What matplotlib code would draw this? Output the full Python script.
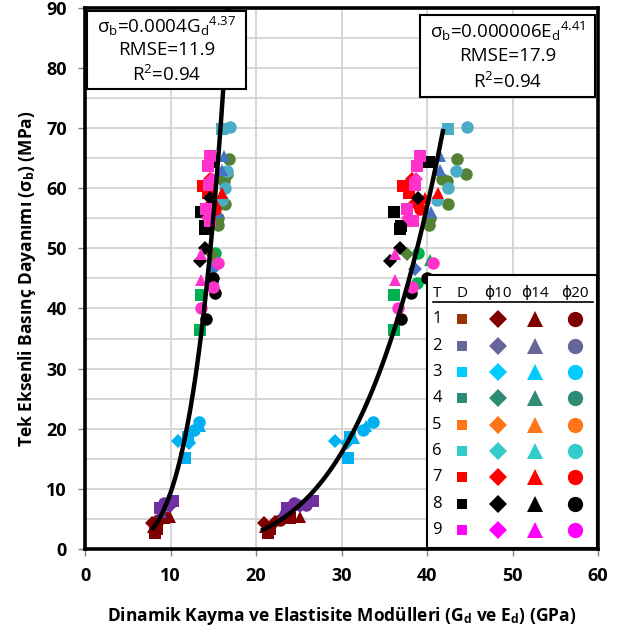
import numpy as np
import matplotlib
matplotlib.use("Agg")
import matplotlib.pyplot as plt
from matplotlib.patches import Rectangle

plt.rcParams['font.family'] = ['Open Sans', 'DejaVu Sans']
plt.rcParams['mathtext.fontset'] = 'custom'
plt.rcParams['mathtext.rm'] = 'Open Sans'
plt.rcParams['mathtext.it'] = 'Open Sans:italic'
plt.rcParams['mathtext.bf'] = 'Open Sans:bold'

# measured points: sigma_b (MPa), G_d and E_d (GPa), marker per point
t1_sig = [2.6, 3.7, 4.3, 4.8, 5.1, 5.4, 4.5, 3.4]
t1_g = [8.2, 8.0, 7.8, 8.5, 9.2, 9.9, 8.7, 8.4]
t1_e = [21.4, 21.0, 20.9, 22.8, 24.0, 25.1, 22.2, 21.6]
t1_m = "s^Dos^Ds"

t2_sig = [7.6, 7.9, 7.1, 6.8, 6.2, 7.4]
t2_g = [9.2, 10.3, 9.9, 8.8, 8.9, 9.6]
t2_e = [24.4, 26.7, 25.1, 23.6, 23.2, 25.9]
t2_m = "osDs^o"

t3_sig = [21.2, 17.9, 15.1, 19.8, 18.4, 18.6, 20.4, 17.6]
t3_g = [13.3, 10.9, 11.7, 12.7, 12.3, 12.0, 13.5, 12.1]
t3_e = [33.7, 29.2, 30.8, 32.5, 31.4, 31.0, 32.9, 30.6]
t3_m = "oDso^s^D"

green_sig = [42.3, 36.5, 48.0, 44.3, 49.3]
green_g = [13.6, 13.5, 15.0, 14.8, 15.2]
green_e = [36.1, 36.1, 40.3, 38.8, 39.0]
green_m = "ss^oo"

olive_sig = [64.8, 62.3, 61.2, 57.3, 55.0, 53.9, 49.0, 61.5]
olive_g = [16.8, 16.6, 16.2, 16.4, 15.6, 15.5, 14.9, 16.0]
olive_e = [43.5, 44.6, 42.3, 42.5, 40.4, 40.2, 37.6, 41.7]
olive_m = "ooooooDo"

steel_sig = [69.8, 70.1, 62.9, 60.1, 58.0]
steel_g = [16.0, 17.0, 16.6, 16.4, 16.0]
steel_e = [42.5, 44.7, 43.4, 42.5, 41.2]
steel_m = "soooo"

blue_sig = [65.4, 63.0, 56.0, 46.5]
blue_g = [16.2, 16.0, 15.6, 15.0]
blue_e = [41.5, 41.5, 40.5, 38.6]
blue_m = "^^^D"

red_sig = [60.4, 61.5, 59.2, 59.2, 58.4, 56.6, 57.5]
red_g = [13.8, 14.6, 14.4, 16.0, 15.0, 15.2, 14.8]
red_e = [37.2, 38.2, 37.9, 41.3, 39.8, 39.2, 38.6]
red_m = "sDs^^oD"

black_sig = [64.3, 56.0, 53.7, 53.2, 58.4, 50.1, 47.9, 45.1, 42.6, 38.2]
black_g = [15.0, 13.6, 14.0, 14.0, 14.6, 14.0, 13.5, 15.0, 15.2, 14.2]
black_e = [40.2, 36.1, 37.0, 36.8, 38.9, 36.8, 35.7, 40.0, 38.1, 37.0]
black_m = "ssssDDDooo"

mag_sig = [65.4, 63.7, 61.5, 56.6, 55.0, 54.5, 49.0, 47.6, 44.8, 43.6, 40.1, 60.5]
mag_g = [14.6, 14.4, 14.8, 14.2, 14.4, 14.6, 13.6, 15.6, 13.6, 15.0, 13.6, 14.5]
mag_e = [39.2, 38.8, 38.7, 37.6, 37.8, 38.4, 36.3, 40.7, 36.3, 38.2, 36.6, 38.6]
mag_m = "ssDsDs^o^oos"

# power-law trend lines sigma = a * x^b (as drawn)
fit_a = [0.0004, 0.0000049]
fit_b = [4.37, 4.41]
fit_from = [7.8, 20.6]
fit_to = [16.9, 41.9]

# legend table
leg_rows = ['1', '2', '3', '4', '5', '6', '7', '8', '9']
leg_cols = ['T', 'D', 'ϕ10', 'ϕ14', 'ϕ20']
leg_sq_colors = ['#993300', '#666699', '#00CCFF', '#2E8B74', '#FF7518',
                 '#33CCCC', '#FF0000', '#000000', '#FF00FF']
leg_colors = ['#800000', '#666699', '#00CCFF', '#2E8B74', '#FF7518',
              '#33CCCC', '#FF0000', '#000000', '#FF00FF']

fig = plt.figure(figsize=(6.21, 6.33), dpi=100)
ax = fig.add_axes([0.137, 0.1327, 0.826, 0.855])

groups = [
    (t1_sig, t1_g, t1_e, t1_m, '#800000'),
    (t2_sig, t2_g, t2_e, t2_m, '#7030A0'),
    (t3_sig, t3_g, t3_e, t3_m, '#00B0F0'),
    (green_sig, green_g, green_e, green_m, '#00B050'),
    (olive_sig, olive_g, olive_e, olive_m, '#548235'),
    (steel_sig, steel_g, steel_e, steel_m, '#4BACC6'),
    (blue_sig, blue_g, blue_e, blue_m, '#4472C4'),
    (red_sig, red_g, red_e, red_m, '#FF0000'),
    (black_sig, black_g, black_e, black_m, '#000000'),
    (mag_sig, mag_g, mag_e, mag_m, '#FF33CC'),
]
for sig, g, e, marks, col in groups:
    for s, gv, ev, mk in zip(sig, g, e, marks):
        size = 7.5 if mk == 'D' else 9
        ax.plot([gv, ev], [s, s], linestyle='none', marker=mk, color=col,
                markersize=size, markeredgewidth=0, zorder=3)

for a, b, x0, x1 in zip(fit_a, fit_b, fit_from, fit_to):
    xs = np.linspace(x0, x1, 200)
    ax.plot(xs, a * xs ** b, color='black', lw=3.2, zorder=4,
            solid_capstyle='butt')

ax.set_xlim(0, 60)
ax.set_ylim(0, 90)
ax.set_xticks(np.arange(0, 61, 10))
ax.set_yticks(np.arange(0, 91, 10))
ax.set_yticks(np.arange(0, 91, 5), minor=True)
ax.grid(True, which='both', axis='y', color='#D0D0D0', lw=1.2, zorder=0)
ax.grid(True, which='major', axis='x', color='#D0D0D0', lw=1.2, zorder=0)
ax.tick_params(axis='y', which='minor', length=0)
ax.tick_params(axis='both', which='major', length=5, width=1, color='#808080',
               labelsize=13, pad=8)
for lab in ax.get_xticklabels() + ax.get_yticklabels():
    lab.set_fontweight('bold')
for sp in ax.spines.values():
    sp.set_linewidth(2.6)
ax.set_axisbelow(True)

ax.set_xlabel('Dinamik Kayma ve Elastisite Modülleri (G$_\\mathbf{d}$ ve E$_\\mathbf{d}$) (GPa)',
              fontsize=12.5, fontweight='bold', labelpad=14)
ax.set_ylabel('Tek Eksenli Basınç Dayanımı (σ$_\\mathbf{b}$) (MPa)',
              fontsize=12.5, fontweight='bold', labelpad=6)

# equation boxes
boxes = [
    (0.2, 76.5, 18.6, 13.0, 'σ$_\\mathrm{b}$=0.0004G$_\\mathrm{d}$$^\\mathrm{4.37}$', 'RMSE=11.9'),
    (39.2, 75.2, 20.5, 13.6, 'σ$_\\mathrm{b}$=0.000006E$_\\mathrm{d}$$^\\mathrm{4.41}$', 'RMSE=17.9'),
]
for x0, y0, w, h, eq, rmse in boxes:
    ax.add_patch(Rectangle((x0, y0), w, h, facecolor='white', edgecolor='black',
                           lw=1.5, zorder=5))
    cx = x0 + w / 2
    ax.text(cx, y0 + h * 0.80, eq, ha='center', va='center', fontsize=13.5, zorder=6)
    ax.text(cx, y0 + h * 0.50, rmse, ha='center', va='center', fontsize=13.5, zorder=6)
    ax.text(cx, y0 + h * 0.18, 'R$^\\mathrm{2}$=0.94', ha='center', va='center',
            fontsize=13.5, zorder=6)

# legend table as inset
lax = fig.add_axes([0.6876, 0.1343, 0.274, 0.431])
lax.set_xlim(0, 170)
lax.set_ylim(273, 0)
lax.set_xticks([])
lax.set_yticks([])
for sp in lax.spines.values():
    sp.set_linewidth(1.5)
col_x = [10, 35, 71, 108, 148]
for cx, name in zip(col_x, leg_cols):
    lax.text(cx, 18, name, ha='center', va='center', fontsize=11,
             family=['Open Sans', 'DejaVu Sans'])
lax.plot([6, 166], [27, 27], color='black', lw=1.2)
for i, (r, sc, c) in enumerate(zip(leg_rows, leg_sq_colors, leg_colors)):
    y = 44 + 26.4 * i
    lax.text(col_x[0], y, r, ha='center', va='center', fontsize=12)
    lax.plot(col_x[1], y, marker='s', color=sc, markersize=7, mew=0)
    lax.plot(col_x[2], y, marker='D', color=c, markersize=9, mew=0)
    lax.plot(col_x[3], y, marker='^', color=c, markersize=11, mew=0)
    lax.plot(col_x[4], y, marker='o', color=c, markersize=11, mew=0)

fig.savefig('out.png', dpi=100)
